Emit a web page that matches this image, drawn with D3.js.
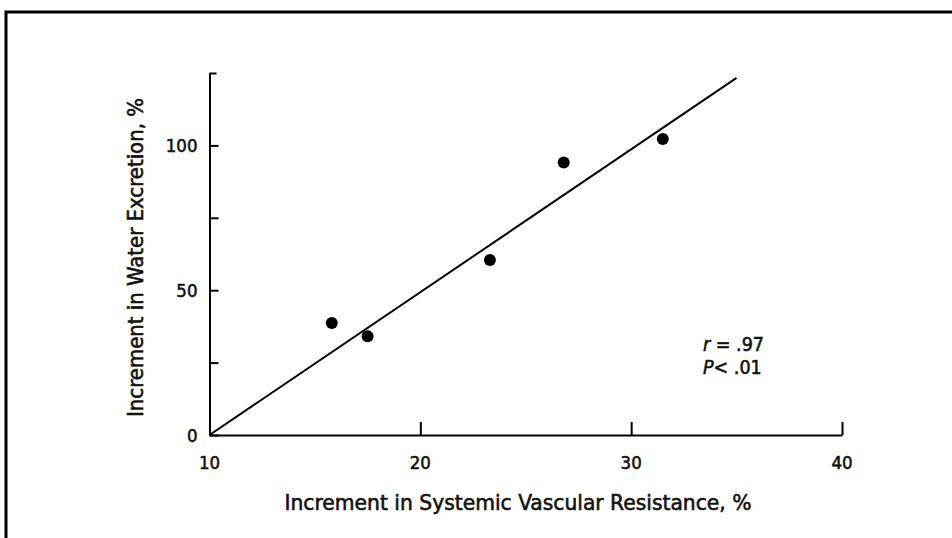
<!DOCTYPE html>
<html>
<head>
<meta charset="utf-8">
<script src="https://cdn.jsdelivr.net/npm/d3@7"></script>
<style>
  html, body { margin: 0; padding: 0; background: #fff; }
  svg { display: block; }
  text { font-family: 'DejaVu Sans Condensed', 'Liberation Sans Narrow', sans-serif; fill: #111; stroke: #111; stroke-width: 0.55; }
</style>
</head>
<body>
<script>

// Data: increments (%)
var resistance = [15.8, 17.5, 23.3, 26.8, 31.5],   // x values
    excretion  = [38.7, 34.1, 60.4, 94.1, 102.2],  // y values
    fitX = [10, 35],                                // regression line ends
    fitY = [0, 123.3];

var xTicks = [10, 20, 30, 40],
    yTicks = [0, 25, 50, 75, 100],
    yLabels = [0, 50, 100];

var statLines = [['r', ' = .97'], ['P', '< .01']];

var width = 952, height = 538;
var margin = {top: 73, right: 110, bottom: 103, left: 209.5};

var svg = d3.select('body').append('svg')
    .attr('width', width)
    .attr('height', height);

// Frame round the figure (only top and left edges show)
svg.append('path')
    .attr('d', 'M6,538 V12 H952')
    .attr('fill', 'none')
    .attr('stroke', '#000')
    .attr('stroke-width', 3);

var x = d3.scaleLinear().domain([10, 40]).range([margin.left, width - margin.right]);
var y = d3.scaleLinear().domain([0, 125]).range([height - margin.bottom, margin.top]);

// Axes, ticks pointing inward
var xAxis = d3.axisTop(x).tickValues(xTicks).tickSize(13).tickSizeOuter(0).tickFormat('');
var yAxis = d3.axisRight(y).tickValues(yTicks.concat([125])).tickSize(9).tickSizeOuter(0).tickFormat('');

var gx = svg.append('g').attr('transform', 'translate(0,' + y(0) + ')').call(xAxis);
var gy = svg.append('g').attr('transform', 'translate(' + x(10) + ',0)').call(yAxis);

[gx, gy].forEach(function(g) {
    g.selectAll('path, line').attr('stroke', '#000').attr('stroke-width', 2);
});
gy.selectAll('.tick').filter(function(d) { return d === 125; }).select('line').attr('x2', 7);

// Tick labels
svg.selectAll('.xlab')
    .data(xTicks)
    .enter().append('text')
    .attr('x', function(d) { return x(d); })
    .attr('y', y(0) + 34)
    .attr('text-anchor', 'middle')
    .attr('font-size', 18.5)
    .text(function(d) { return d; });

svg.selectAll('.ylab')
    .data(yLabels)
    .enter().append('text')
    .attr('x', x(10) - 12)
    .attr('y', function(d) { return y(d) + 7; })
    .attr('text-anchor', 'end')
    .attr('font-size', 18.5)
    .text(function(d) { return d; });

// Axis titles
svg.append('text')
    .attr('x', 518)
    .attr('y', 510)
    .attr('text-anchor', 'middle')
    .attr('font-size', 21.5)
    .attr('textLength', 467)
    .attr('lengthAdjust', 'spacingAndGlyphs')
    .text('Increment in Systemic Vascular Resistance, %');

svg.append('text')
    .attr('transform', 'translate(143,257.5) rotate(-90)')
    .attr('text-anchor', 'middle')
    .attr('font-size', 21.5)
    .attr('textLength', 319)
    .attr('lengthAdjust', 'spacingAndGlyphs')
    .text('Increment in Water Excretion, %');

// Regression line
svg.append('line')
    .attr('x1', x(fitX[0])).attr('y1', y(fitY[0]))
    .attr('x2', x(fitX[1])).attr('y2', y(fitY[1]))
    .attr('stroke', '#000')
    .attr('stroke-width', 2);

// Points
svg.selectAll('.point')
    .data(resistance)
    .enter().append('circle')
    .attr('cx', function(d) { return x(d); })
    .attr('cy', function(d, i) { return y(excretion[i]); })
    .attr('r', 6)
    .attr('fill', '#000');

// r and P annotation
var stat = svg.selectAll('.stat')
    .data(statLines)
    .enter().append('text')
    .attr('x', 703)
    .attr('y', function(d, i) { return 351 + i * 23; })
    .attr('font-size', 19.5);
stat.append('tspan').attr('font-style', 'italic').text(function(d) { return d[0]; });
stat.append('tspan').text(function(d) { return d[1]; });

</script>
</body>
</html>
